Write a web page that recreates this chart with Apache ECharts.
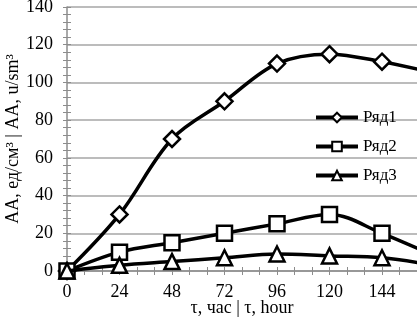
<!DOCTYPE html>
<html>
<head>
<meta charset="utf-8">
<script src="https://cdn.jsdelivr.net/npm/echarts@6/dist/echarts.min.js"></script>
<style>
  html, body { margin: 0; padding: 0; background: #fff; }
  #chart { width: 417px; height: 318px; }
</style>
</head>
<body>
<div id="chart"></div>
<script>
// hours
var hours = [0, 24, 48, 72, 96, 120, 144, 168];
var row1 = [0, 30, 70, 90, 110, 115, 111, 105];
var row2 = [0, 10, 15, 20, 25, 30, 20, 8];
var row3 = [0, 3, 5, 7, 9, 8, 7, 3];
var seriesNames = ["Ряд1", "Ряд2", "Ряд3"];
var symbols = ["diamond", "rect", "triangle"];

var font = "Liberation Serif";
var gray = "#8c8c8c";

function pairs(arr) {
  return arr.map(function (v, i) {
    return [hours[i], v];
  });
}

var myChart = echarts.init(document.getElementById("chart"));

var series = [row1, row2, row3].map(function (arr, i) {
  return {
    name: seriesNames[i],
    type: "line",
    smooth: 0.35,
    clip: true,
    symbol: symbols[i],
    symbolSize: i == 0 ? 16 : 15,
    lineStyle: { color: "#000", width: 3.5 },
    itemStyle: { color: "#fff", borderColor: "#000", borderWidth: 2.5 },
    z: 3 + i,
    data: pairs(arr),
  };
});

var option = {
  animation: false,
  grid: { left: 67, right: 0, top: 7, bottom: 47, outerBoundsMode: "none" },
  legend: {
    orient: "vertical",
    left: 309,
    top: 104,
    itemGap: 12,
    itemWidth: 42,
    itemHeight: 12,
    lineStyle: { color: "#000", width: 4 },
    textStyle: { fontFamily: font, fontSize: 17, color: "#000" },
    data: seriesNames,
  },
  xAxis: [
    {
      type: "value",
      position: "bottom",
      min: 0,
      max: 160,
      interval: 24,
      name: "τ, час | τ, hour",
      nameLocation: "middle",
      nameGap: 28,
      nameMoveOverlap: false,
      nameTextStyle: { fontFamily: font, fontSize: 18, color: "#000" },
      axisLine: { show: true, onZero: false, lineStyle: { color: gray, width: 1.5 } },
      axisTick: { show: true, length: 4, lineStyle: { color: gray } },
      minorTick: { show: true, splitNumber: 3, length: 4, lineStyle: { color: gray } },
      splitLine: { show: false },
      axisLabel: {
        fontFamily: font,
        fontSize: 18,
        color: "#000",
        margin: 12,
        showMaxLabel: false,
      },
    },
    {
      // inner half of the crossing ticks
      type: "value",
      position: "bottom",
      min: 0,
      max: 160,
      interval: 24,
      axisLine: { show: false, onZero: false },
      axisTick: { show: true, inside: true, length: 4, lineStyle: { color: gray } },
      minorTick: { show: true, splitNumber: 3, length: 4, lineStyle: { color: gray } },
      splitLine: { show: false },
      axisLabel: { show: false },
    },
  ],
  yAxis: [
    {
      type: "value",
      position: "left",
      min: 0,
      max: 140,
      interval: 20,
      name: "AA, ед/см³ | AA, u/sm³",
      nameLocation: "middle",
      nameGap: 45,
      nameMoveOverlap: false,
      nameTextStyle: { fontFamily: font, fontSize: 18, color: "#000" },
      axisLine: { show: true, lineStyle: { color: gray, width: 1.5 } },
      axisTick: { show: true, length: 4, lineStyle: { color: gray } },
      minorTick: { show: true, splitNumber: 5, length: 4, lineStyle: { color: gray } },
      splitLine: { show: true, lineStyle: { color: "#a6a6a6", width: 1.5 } },
      axisLabel: { fontFamily: font, fontSize: 18, color: "#000", margin: 14 },
    },
    {
      type: "value",
      position: "left",
      min: 0,
      max: 140,
      interval: 20,
      axisLine: { show: false },
      axisTick: { show: true, inside: true, length: 4, lineStyle: { color: gray } },
      minorTick: { show: true, splitNumber: 5, length: 4, lineStyle: { color: gray } },
      splitLine: { show: false },
      axisLabel: { show: false },
    },
  ],
  series: series,
};

myChart.setOption(option);
window.addEventListener("resize", function () {
  if (myChart) myChart.resize();
});
</script>
</body>
</html>
